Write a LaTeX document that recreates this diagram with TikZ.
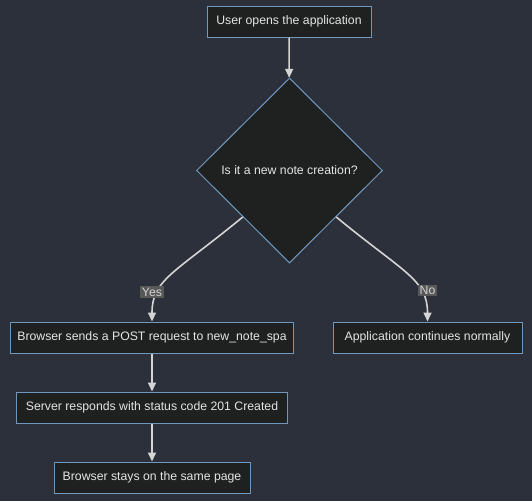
\documentclass[tikz,border=0pt]{standalone}
\usepackage{fontspec}
\setmainfont{Liberation Sans}
\usetikzlibrary{shapes.geometric,arrows.meta}

\definecolor{canvas}{HTML}{2B303B}
\definecolor{boxfill}{HTML}{1F2020}
\definecolor{boxline}{HTML}{6F98BF}
\definecolor{boxtext}{HTML}{E4E4E4}
\definecolor{flowline}{HTML}{D4D4D4}
\definecolor{labelfill}{HTML}{585858}
\definecolor{labeltext}{HTML}{D3D3D3}

\tikzset{
  stepbox/.style={draw=boxline, fill=boxfill, line width=0.75pt, text=boxtext,
    minimum height=23.25pt, inner sep=0pt, font=\fontsize{9.2}{11}\selectfont},
  choice/.style={diamond, aspect=1, draw=boxline, fill=boxfill, line width=0.75pt,
    text=boxtext, minimum width=139.5pt, minimum height=138.75pt, inner sep=0pt,
    font=\fontsize{9.2}{11}\selectfont},
  flow/.style={draw=flowline, line width=1.2pt, -{Triangle[width=6pt,length=6.75pt]}},
  answer/.style={fill=labelfill, text=labeltext, inner sep=1.2pt,
    font=\fontsize{9.2}{11}\selectfont}
}

\begin{document}
\begin{tikzpicture}[x=0.75pt, y=-0.75pt]

  \fill[canvas] (0,0) rectangle (532,501);
  \useasboundingbox (0,0) rectangle (532,501);

  \node[stepbox, minimum width=123pt] (open) at (289,21.5) {User opens the application};
  \node[choice] (newnote) at (289.5,170.5) {Is it a new note creation?};
  \node[stepbox, minimum width=212.25pt] (post) at (152,337.5) {Browser sends a POST request to new\_note\_spa};
  \node[stepbox, minimum width=141.75pt] (normal) at (427.5,337.5) {Application continues normally};
  \node[stepbox, minimum width=203.25pt] (created) at (152,407.5) {Server responds with status code 201 Created};
  \node[stepbox, minimum width=147pt] (stay) at (152,477.5) {Browser stays on the same page};

  \draw[flow] (open) -- (newnote);
  \draw[flow] (newnote.south west) .. controls +(-68,56) and +(0,-42) .. (post.north);
  \draw[flow] (newnote.south east) .. controls +(68,56) and +(0,-42) .. (normal.north);
  \draw[flow] (post) -- (created);
  \draw[flow] (created) -- (stay);

  \node[answer] (yes) at (152,292) {Yes};
  \node[answer] (no) at (427.5,290.5) {No};

\end{tikzpicture}
\end{document}
